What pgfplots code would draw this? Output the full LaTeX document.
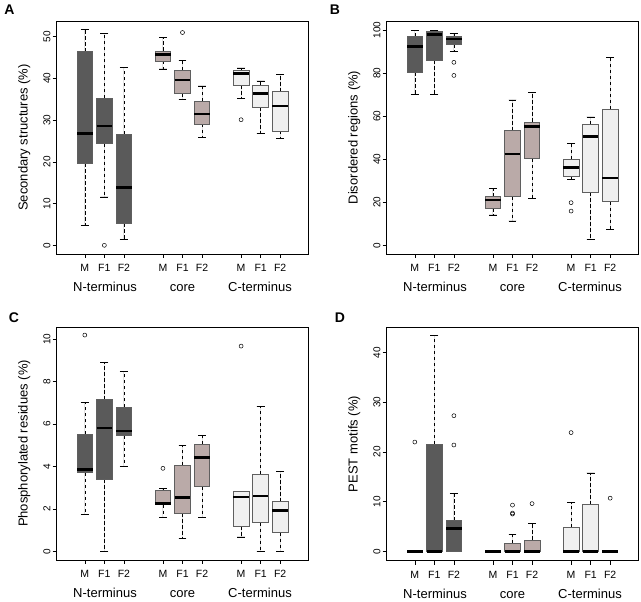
\documentclass[border=0pt]{standalone}
\usepackage{fontspec}
\setmainfont{Liberation Sans}
\usepackage{pgfplots}
\pgfplotsset{compat=1.18}
\usepgfplotslibrary{statistics}
\definecolor{cN}{RGB}{90,90,90}
\definecolor{cC}{RGB}{186,170,168}
\definecolor{cT}{RGB}{240,240,240}
\definecolor{cB}{RGB}{95,95,95}
\tikzset{grp/.style={font=\fontsize{13}{15}\selectfont, anchor=base, yshift=-38pt}}
\pgfplotsset{
  rb/.style n args={6}{boxplot prepared={draw direction=y, draw position=#1, lower whisker=#2, lower quartile=#3, median=#4, upper quartile=#5, upper whisker=#6, box extend=0.8, whisker extend=0.4}},
  ro/.style={mark=o, mark size=2pt, mark options={solid, draw=black, line width=0.5pt}},
  boxplot/every box/.style={draw=cB, line width=0.7pt},
  boxplot/every median/.style={draw=black, line width=2.7pt},
  boxplot/draw/lower whisker/.code={%
    \draw[black, line width=0.6pt, dash pattern=on 3.5pt off 2.5pt]
      (boxplot box cs:\pgfplotsboxplotvalue{lower quartile},0.5) -- (boxplot box cs:\pgfplotsboxplotvalue{lower whisker},0.5);
    \draw[black, line width=0.6pt]
      (boxplot whisker cs:\pgfplotsboxplotvalue{lower whisker},0) -- (boxplot whisker cs:\pgfplotsboxplotvalue{lower whisker},1);
  },
  boxplot/draw/upper whisker/.code={%
    \draw[black, line width=0.6pt, dash pattern=on 3.5pt off 2.5pt]
      (boxplot box cs:\pgfplotsboxplotvalue{upper quartile},0.5) -- (boxplot box cs:\pgfplotsboxplotvalue{upper whisker},0.5);
    \draw[black, line width=0.6pt]
      (boxplot whisker cs:\pgfplotsboxplotvalue{upper whisker},0) -- (boxplot whisker cs:\pgfplotsboxplotvalue{upper whisker},1);
  },
  rpanel/.style={
    scale only axis, width=251.6pt, height=233pt,
    xmin=-0.44, xmax=12.44,
    xtick={1,2,3,5,6,7,9,10,11},
    xticklabels={M,F1,F2,M,F1,F2,M,F1,F2},
    tick align=outside, xtick pos=bottom, ytick pos=left,
    major tick length=4pt,
    tick style={black, line width=0.6pt},
    axis line style={black, line width=0.8pt},
    /pgf/number format/assume math mode=true,
    yticklabel style={font=\fontsize{10}{12}\selectfont, rotate=90, anchor=south, inner sep=2pt},
    xticklabel style={font=\fontsize{10.5}{12}\selectfont, anchor=base, yshift=-14pt},
    clip=false,
    anchor=south west,
    every axis y label/.style={at={(axis description cs:-0.129,0.5)}, rotate=90, anchor=center, font=\fontsize{13}{15}\selectfont},
  },
}
\newcommand{\groups}{%
  \node[grp] at (axis description cs:0.192,0) {N-terminus};
  \node[grp] at (axis description cs:0.5,0) {core};
  \node[grp] at (axis description cs:0.808,0) {C-terminus};
}
\begin{document}
\begin{tikzpicture}
\useasboundingbox (0pt,0pt) rectangle (641pt,602pt);
% ---------------- A
\begin{axis}[rpanel, at={(56.7pt,348pt)}, ymin=-2.08, ymax=53.76, ytick={0,10,20,30,40,50},
  ylabel={Secondary structures (\%)}]
\addplot[rb={1}{4.8}{19.7}{26.8}{46.4}{51.8}, fill=cN, ro] coordinates {};
\addplot[rb={2}{11.6}{24.4}{28.6}{35.2}{50.8}, fill=cN, ro] coordinates {(2,0.0)};
\addplot[rb={3}{1.5}{5.3}{13.9}{26.6}{42.7}, fill=cN, ro] coordinates {};
\addplot[rb={5}{42.3}{44.2}{45.7}{46.6}{49.9}, fill=cC, ro] coordinates {};
\addplot[rb={6}{34.9}{36.5}{39.6}{41.9}{44.4}, fill=cC, ro] coordinates {(6,51.0)};
\addplot[rb={7}{25.8}{29.1}{31.5}{34.5}{38.2}, fill=cC, ro] coordinates {};
\addplot[rb={9}{35.2}{38.3}{41.1}{41.9}{42.5}, fill=cT, ro] coordinates {(9,30.1)};
\addplot[rb={10}{26.8}{33.1}{36.4}{38.4}{39.4}, fill=cT, ro] coordinates {};
\addplot[rb={11}{25.7}{27.4}{33.4}{36.8}{40.9}, fill=cT, ro] coordinates {};
\groups
\end{axis}
% ---------------- B
\begin{axis}[rpanel, at={(386.7pt,348pt)}, ymin=-4.04, ymax=104.2, ytick={0,20,40,60,80,100},
  ylabel={Disordered regions (\%)}]
\addplot[rb={1}{70.1}{80.5}{92.4}{96.9}{100}, fill=cN, ro] coordinates {};
\addplot[rb={2}{70.1}{85.9}{97.8}{99.5}{100}, fill=cN, ro] coordinates {};
\addplot[rb={3}{89.9}{93.3}{95.8}{96.9}{98.5}, fill=cN, ro] coordinates {(3,85.0) (3,78.9)};
\addplot[rb={5}{14.1}{17.2}{21.1}{22.6}{26.5}, fill=cC, ro] coordinates {};
\addplot[rb={6}{11.3}{22.6}{42.4}{53.3}{67.5}, fill=cC, ro] coordinates {};
\addplot[rb={7}{21.7}{40.2}{55.1}{57.3}{71.2}, fill=cC, ro] coordinates {};
\addplot[rb={9}{30.7}{32.2}{36.1}{39.9}{47.4}, fill=cT, ro] coordinates {(9,19.8) (9,15.9)};
\addplot[rb={10}{2.8}{24.6}{50.5}{56.2}{59.6}, fill=cT, ro] coordinates {};
\addplot[rb={11}{7.4}{20.3}{31.3}{63.3}{87.2}, fill=cT, ro] coordinates {};
\groups
\end{axis}
% ---------------- C
\begin{axis}[rpanel, at={(56.7pt,42pt)}, ymin=-0.41, ymax=10.57, ytick={0,2,4,6,8,10},
  ylabel={Phosphorylated residues (\%)}]
\addplot[rb={1}{1.74}{3.70}{3.85}{5.51}{7.0}, fill=cN, ro] coordinates {(1,10.19)};
\addplot[rb={2}{0}{3.39}{5.81}{7.14}{8.89}, fill=cN, ro] coordinates {};
\addplot[rb={3}{3.99}{5.45}{5.67}{6.78}{8.49}, fill=cN, ro] coordinates {};
\addplot[rb={5}{1.60}{2.20}{2.26}{2.86}{2.95}, fill=cC, ro] coordinates {(5,3.91)};
\addplot[rb={6}{0.6}{1.79}{2.53}{4.05}{4.98}, fill=cC, ro] coordinates {};
\addplot[rb={7}{1.60}{3.05}{4.41}{5.04}{5.45}, fill=cC, ro] coordinates {};
\addplot[rb={9}{0.68}{1.19}{2.56}{2.81}{2.83}, fill=cT, ro] coordinates {(9,9.67)};
\addplot[rb={10}{0}{1.35}{2.61}{3.64}{6.81}, fill=cT, ro] coordinates {};
\addplot[rb={11}{0}{0.88}{1.92}{2.34}{3.75}, fill=cT, ro] coordinates {};
\groups
\end{axis}
% ---------------- D
\begin{axis}[rpanel, at={(386.7pt,41.3pt)}, height=233.4pt, ymin=-1.89, ymax=45.1, ytick={0,10,20,30,40},
  ylabel={PEST motifs (\%)}]
\addplot[rb={1}{0}{0}{0}{0}{0}, fill=cN, ro] coordinates {(1,22.0)};
\addplot[rb={2}{0}{0}{0}{21.6}{43.5}, fill=cN, ro] coordinates {};
\addplot[rb={3}{0}{0}{4.6}{6.2}{11.7}, fill=cN, ro] coordinates {(3,21.4) (3,27.3)};
\addplot[rb={5}{0}{0}{0}{0}{0}, fill=cC, ro] coordinates {};
\addplot[rb={6}{0}{0}{0}{1.6}{3.4}, fill=cC, ro] coordinates {(6,7.5) (6,7.7) (6,9.3)};
\addplot[rb={7}{0}{0}{0}{2.3}{5.6}, fill=cC, ro] coordinates {(7,9.6)};
\addplot[rb={9}{0}{0}{0}{4.8}{9.8}, fill=cT, ro] coordinates {(9,23.9)};
\addplot[rb={10}{0}{0}{0}{9.4}{15.8}, fill=cT, ro] coordinates {};
\addplot[rb={11}{0}{0}{0}{0}{0}, fill=cT, ro] coordinates {(11,10.7)};
\groups
\end{axis}
% panel letters
\node[font=\bfseries\fontsize{14}{16}\selectfont] at (9.5pt,592pt) {A};
\node[font=\bfseries\fontsize{14}{16}\selectfont] at (335pt,592pt) {B};
\node[font=\bfseries\fontsize{14}{16}\selectfont] at (14pt,284pt) {C};
\node[font=\bfseries\fontsize{14}{16}\selectfont] at (340pt,284pt) {D};
\end{tikzpicture}
\end{document}
